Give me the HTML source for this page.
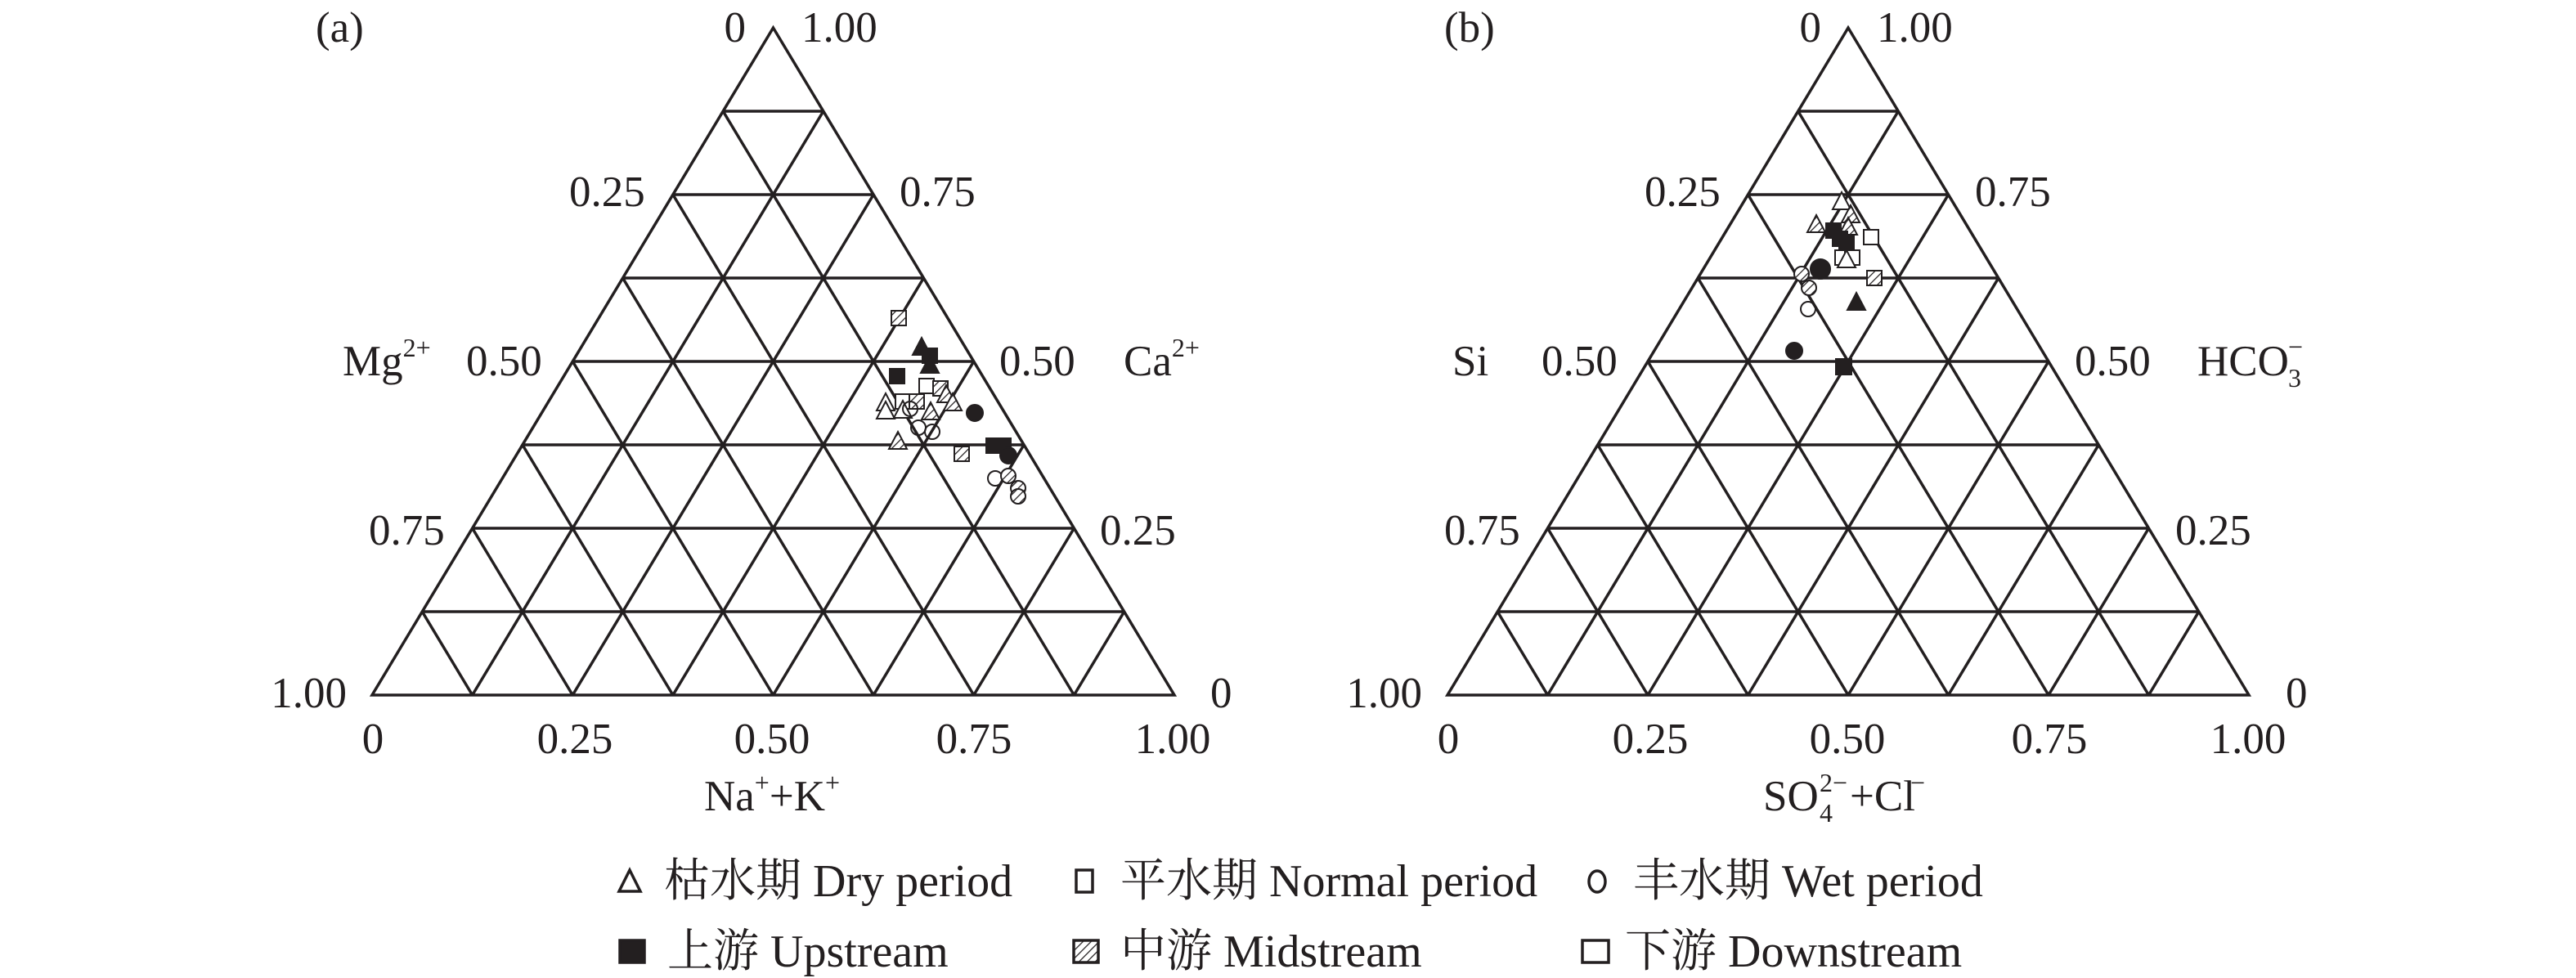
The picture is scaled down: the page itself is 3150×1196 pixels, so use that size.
<!DOCTYPE html>
<html><head><meta charset="utf-8"><style>
html,body{margin:0;padding:0;background:#fff;}
svg{display:block;}
text{font-family:"Liberation Serif","Noto Serif CJK SC",serif;fill:#231f20;}
</style></head><body>
<svg width="3150" height="1196" viewBox="0 0 3150 1196" xmlns="http://www.w3.org/2000/svg">
<defs>
<pattern id="h" patternUnits="userSpaceOnUse" width="7" height="7" patternTransform="rotate(45)">
<rect width="7" height="7" fill="#fff"/><line x1="0" y1="0" x2="0" y2="7" stroke="#231f20" stroke-width="2.5"/>
</pattern>
<g id="grid" fill="none" stroke="#231f20" stroke-width="3.5">
<path vector-effect="non-scaling-stroke" d="M0 0L1 0L0 1Z
M0 .125L.875 .125 M0 .25L.75 .25 M0 .375L.625 .375 M0 .5L.5 .5 M0 .625L.375 .625 M0 .75L.25 .75 M0 .875L.125 .875
M.125 0L.125 .875 M.25 0L.25 .75 M.375 0L.375 .625 M.5 0L.5 .5 M.625 0L.625 .375 M.75 0L.75 .25 M.875 0L.875 .125
M.125 0L0 .125 M.25 0L0 .25 M.375 0L0 .375 M.5 0L0 .5 M.625 0L0 .625 M.75 0L0 .75 M.875 0L0 .875"/>
</g>
<path id="tri" d="M0 -12L11 9L-11 9Z"/>
</defs>
<g transform="matrix(981 0 490.5 -816 455 850)"><use href="#grid"/></g>
<g transform="matrix(980 0 490 -816 1770 850)"><use href="#grid"/></g>

<g font-size="53" dominant-baseline="central">
<text x="386" y="34">(a)</text>
<text x="912" y="34" text-anchor="end">0</text><text x="980" y="34">1.00</text>
<text x="696" y="235">0.25</text><text x="1100" y="235">0.75</text>
<text x="419" y="442">Mg<tspan font-size="32" dy="-17">2+</tspan></text>
<text x="570" y="442">0.50</text><text x="1222" y="442">0.50</text>
<text x="1374" y="442">Ca<tspan font-size="32" dy="-17">2+</tspan></text>
<text x="451" y="649">0.75</text><text x="1345" y="649">0.25</text>
<text x="424" y="848" text-anchor="end">1.00</text><text x="1480" y="848">0</text>
<g text-anchor="middle"><text x="456" y="904">0</text><text x="703" y="904">0.25</text><text x="944" y="904">0.50</text><text x="1191" y="904">0.75</text><text x="1434" y="904">1.00</text></g>
<text x="944" y="974" text-anchor="middle">Na<tspan font-size="32" dy="-17">+</tspan><tspan dy="17">+K</tspan><tspan font-size="32" dy="-17">+</tspan></text>

<text x="1766" y="34">(b)</text>
<text x="2227" y="34" text-anchor="end">0</text><text x="2295" y="34">1.00</text>
<text x="2011" y="235">0.25</text><text x="2415" y="235">0.75</text>
<text x="1776" y="442">Si</text>
<text x="1885" y="442">0.50</text><text x="2537" y="442">0.50</text>
<text x="2687" y="442">HCO</text><text x="2798" y="462" font-size="32">3</text><text x="2798" y="424" font-size="32">−</text>
<text x="1766" y="649">0.75</text><text x="2660" y="649">0.25</text>
<text x="1739" y="848" text-anchor="end">1.00</text><text x="2795" y="848">0</text>
<g text-anchor="middle"><text x="1771" y="904">0</text><text x="2018" y="904">0.25</text><text x="2259" y="904">0.50</text><text x="2506" y="904">0.75</text><text x="2749" y="904">1.00</text></g>
<text x="2156" y="974">SO</text><text x="2225" y="994" font-size="32">4</text><text x="2225" y="957" font-size="32">2−</text><text x="2262" y="974">+Cl</text><text x="2336" y="957" font-size="32">−</text>
</g>

<!-- data a -->
<g stroke="#231f20" stroke-width="2">
<rect x="1090" y="380" width="18" height="18" fill="url(#h)"/>
<use href="#tri" x="1127" y="425" fill="#231f20"/>
<rect x="1128" y="426" width="18" height="18" fill="#231f20"/>
<use href="#tri" x="1137" y="447" fill="#231f20"/>
<rect x="1088" y="451" width="18" height="18" fill="#231f20"/>
<rect x="1124" y="463" width="18" height="18" fill="#fff"/>
<rect x="1141" y="466" width="18" height="18" fill="url(#h)"/>
<use href="#tri" x="1157" y="483" fill="url(#h)"/>
<use href="#tri" x="1165" y="493" fill="url(#h)"/>
<use href="#tri" x="1083" y="493" fill="#fff"/>
<use href="#tri" x="1083" y="503" fill="#fff"/>
<rect x="1095" y="482" width="18" height="18" fill="#fff"/>
<rect x="1112" y="482" width="18" height="18" fill="url(#h)"/>
<use href="#tri" x="1104" y="502" fill="#fff"/>
<circle cx="1113" cy="500" r="9" fill="none"/>
<use href="#tri" x="1138" y="504" fill="url(#h)"/>
<circle cx="1192" cy="505" r="10" fill="#231f20"/>
<circle cx="1123" cy="523" r="9" fill="none"/>
<circle cx="1140" cy="528" r="9" fill="none"/>
<use href="#tri" x="1098" y="540" fill="url(#h)"/>
<rect x="1167" y="546" width="18" height="18" fill="url(#h)"/>
<rect x="1206" y="536" width="18" height="18" fill="#231f20"/>
<rect x="1218" y="536" width="18" height="18" fill="#231f20"/>
<circle cx="1233" cy="557" r="10" fill="#231f20"/>
<circle cx="1217" cy="585" r="9" fill="none"/>
<circle cx="1233" cy="582" r="9" fill="url(#h)"/>
<circle cx="1245" cy="597" r="9" fill="url(#h)"/>
<circle cx="1245" cy="607" r="9" fill="url(#h)"/>
</g>
<!-- data b -->
<g stroke="#231f20" stroke-width="2">
<use href="#tri" x="2252" y="247" fill="#fff"/>
<use href="#tri" x="2263" y="263" fill="url(#h)"/>
<use href="#tri" x="2221" y="275" fill="url(#h)"/>
<use href="#tri" x="2260" y="278" fill="url(#h)"/>
<rect x="2233" y="273" width="18" height="18" fill="#231f20"/>
<rect x="2279" y="281" width="18" height="18" fill="#fff"/>
<rect x="2241" y="283" width="18" height="18" fill="#231f20"/>
<rect x="2249" y="288" width="18" height="18" fill="#231f20"/>
<rect x="2244" y="306" width="18" height="18" fill="#fff"/>
<rect x="2256" y="306" width="18" height="18" fill="#fff"/>
<use href="#tri" x="2258" y="318" fill="#fff"/>
<circle cx="2203" cy="335" r="9" fill="url(#h)"/>
<circle cx="2226" cy="329" r="12" fill="#231f20"/>
<circle cx="2212" cy="352" r="9" fill="url(#h)"/>
<rect x="2283" y="331" width="18" height="18" fill="url(#h)"/>
<use href="#tri" x="2270" y="370" fill="#231f20"/>
<circle cx="2211" cy="378" r="9" fill="none"/>
<circle cx="2194" cy="429" r="10" fill="#231f20"/>
<rect x="2245" y="439" width="19" height="19" fill="#231f20"/>
</g>

<!-- legend -->
<g stroke="#231f20" stroke-width="3.5">
<path d="M770 1064L783 1090L757 1090Z" fill="none"/>
<rect x="1316" y="1064" width="20" height="27" fill="none"/>
<ellipse cx="1953" cy="1078" rx="10" ry="13" fill="none"/>
<rect x="758" y="1150" width="30" height="27" fill="#231f20"/>
<rect x="1313" y="1150" width="30" height="27" fill="url(#h)"/>
<rect x="1935" y="1150" width="32" height="27" fill="none"/>
</g>
<g font-size="56" dominant-baseline="central">
<text x="812" y="1078">枯水期 Dry period</text>
<text x="1370" y="1078">平水期 Normal period</text>
<text x="1997" y="1078">丰水期 Wet period</text>
<text x="816" y="1164">上游 Upstream</text>
<text x="1370" y="1164">中游 Midstream</text>
<text x="1987" y="1164">下游 Downstream</text>
</g>
</svg>
</body></html>
